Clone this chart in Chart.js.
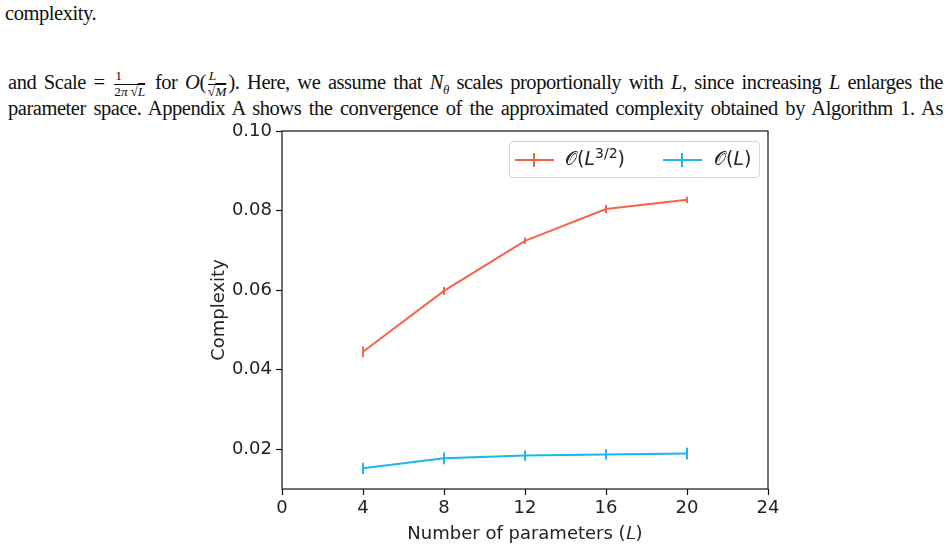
<!DOCTYPE html>
<html lang="en">
<head>
    <meta charset="UTF-8">
    <title>Complexity vs number of parameters</title>
    <script src="https://cdn.jsdelivr.net/npm/chart.js"></script>
    <style>
        body {
            margin: 0;
            padding: 0;
            background: #ffffff;
            width: 949px;
            height: 548px;
            overflow: hidden;
            position: relative;
        }

        .txt {
            position: absolute;
            font-family: 'Liberation Serif', 'Times New Roman', serif;
            font-size: 20.5px;
            letter-spacing: -0.45px;
            color: #111;
            white-space: nowrap;
            line-height: 1;
        }

        .just {
            width: 935px;
            text-align: justify;
            text-align-last: justify;
            white-space: normal;
        }

        .frac {
            display: inline-block;
            vertical-align: middle;
            text-align: center;
            font-size: 13.5px;
            letter-spacing: 0;
            line-height: 1.1;
            margin: 0 2px;
        }

        .frac .num {
            display: block;
            border-bottom: 1px solid #111;
            padding: 0 1px;
        }

        .frac .den {
            display: block;
        }

        #chart {
            position: absolute;
            left: 0;
            top: 0;
        }

        .legend {
            position: absolute;
            left: 509px;
            top: 141px;
            width: 249px;
            height: 35px;
            border: 1px solid #d6d6d6;
            border-radius: 4px;
            background: rgba(255, 255, 255, 0.8);
            font-family: 'DejaVu Sans', sans-serif;
            font-size: 19px;
            color: #222;
        }

        .legend .icon {
            position: absolute;
            top: 17px;
            width: 39px;
            height: 2px;
        }

        .legend .icon::after {
            content: '';
            position: absolute;
            left: 18px;
            top: -6px;
            width: 2px;
            height: 14px;
            background: inherit;
        }

        .legend .label {
            position: absolute;
            white-space: nowrap;
        }

        .legend sup {
            font-size: 14px;
            vertical-align: 7px;
            line-height: 0;
        }
    </style>
</head>
<body>

    <div class="txt" style="left:5px; top:3px;">complexity.</div>

    <div class="txt just" style="left:8px; top:69px;">
        and Scale = <span class="frac"><span class="num">1</span><span class="den">2<i>π</i>&thinsp;√<span style="text-decoration: overline;"><i>L</i></span></span></span> for <i>O</i>(<span class="frac"><span class="num"><i>L</i></span><span class="den">√<span style="text-decoration: overline;"><i>M</i></span></span></span>). Here, we assume that <i>N</i><sub style="font-size:13px;"><i>θ</i></sub> scales proportionally with <i>L</i>, since increasing <i>L</i> enlarges the
    </div>

    <div class="txt just" style="left:8px; top:98px;">
        parameter space. Appendix A shows the convergence of the approximated complexity obtained by Algorithm 1. As
    </div>

    <canvas id="chart" width="949" height="548"></canvas>

    <div class="legend">
        <div class="icon" style="left:5px; background:#f6634b;"></div>
        <div class="label" style="left:55px; top:5px;">𝒪(<i>L</i><sup>3/2</sup>)</div>
        <div class="icon" style="left:153px; background:#1bb6f0;"></div>
        <div class="label" style="left:204px; top:5px;">𝒪(<i>L</i>)</div>
    </div>

    <script>
        // Data
        const params = [4, 8, 12, 16, 20];
        const complexityL32 = [0.0445, 0.0598, 0.0724, 0.0804, 0.0827];
        const errL32 = [0.0013, 0.0010, 0.0008, 0.0010, 0.0008];
        const complexityL = [0.0152, 0.0177, 0.0184, 0.0187, 0.0189];
        const errL = [0.0014, 0.0015, 0.0013, 0.0013, 0.0015];

        const xTicks = [0, 4, 8, 12, 16, 20, 24];
        const yTicks = [0.02, 0.04, 0.06, 0.08, 0.10];

        const redColor = '#f6634b';
        const blueColor = '#1bb6f0';

        // vertical error bars, drawn through the scales
        const errorBars = {
            id: 'errorBars',
            afterDatasetsDraw(chart) {
                const ctx = chart.ctx;
                const yScale = chart.scales.y;
                chart.data.datasets.forEach((ds, i) => {
                    const meta = chart.getDatasetMeta(i);
                    ctx.save();
                    ctx.strokeStyle = ds.borderColor;
                    ctx.lineWidth = 2;
                    meta.data.forEach((pt, j) => {
                        const v = ds.data[j].y;
                        const e = ds.errors[j];
                        ctx.beginPath();
                        ctx.moveTo(pt.x, yScale.getPixelForValue(v - e));
                        ctx.lineTo(pt.x, yScale.getPixelForValue(v + e));
                        ctx.stroke();
                    });
                    ctx.restore();
                });
            }
        };

        // matplotlib-like box around the axes
        const frame = {
            id: 'frame',
            afterDraw(chart) {
                const a = chart.chartArea;
                const ctx = chart.ctx;
                ctx.save();
                ctx.strokeStyle = '#111';
                ctx.lineWidth = 1.2;
                ctx.strokeRect(a.left, a.top, a.right - a.left, a.bottom - a.top);
                ctx.restore();
            }
        };

        const tickFont = { family: 'DejaVu Sans', size: 18 };

        new Chart(document.getElementById('chart').getContext('2d'), {
            type: 'line',
            data: {
                datasets: [
                    {
                        label: 'O(L^3/2)',
                        data: params.map((x, i) => ({ x: x, y: complexityL32[i] })),
                        errors: errL32,
                        borderColor: redColor,
                        borderWidth: 2,
                        pointRadius: 0,
                        tension: 0,
                        fill: false
                    },
                    {
                        label: 'O(L)',
                        data: params.map((x, i) => ({ x: x, y: complexityL[i] })),
                        errors: errL,
                        borderColor: blueColor,
                        borderWidth: 2,
                        pointRadius: 0,
                        tension: 0,
                        fill: false
                    }
                ]
            },
            options: {
                responsive: false,
                animation: false,
                devicePixelRatio: 1,
                layout: {
                    padding: { left: 205, top: 131, right: 181, bottom: 2 }
                },
                plugins: {
                    legend: { display: false },
                    tooltip: { enabled: false }
                },
                scales: {
                    x: {
                        type: 'linear',
                        min: 0,
                        max: 24,
                        afterBuildTicks: (scale) => {
                            scale.ticks = xTicks.map(v => ({ value: v }));
                        },
                        afterFit: (scale) => { scale.height = 57; },
                        grid: {
                            display: true,
                            drawOnChartArea: false,
                            drawTicks: true,
                            tickLength: 6,
                            tickWidth: 1.2,
                            tickColor: '#111'
                        },
                        border: { display: false },
                        ticks: {
                            color: '#222',
                            font: tickFont,
                            padding: 3,
                            maxRotation: 0
                        },
                        title: {
                            display: true,
                            text: 'Number of parameters (𝐿)',
                            color: '#222',
                            font: tickFont,
                            padding: { top: 4, bottom: 1 }
                        }
                    },
                    y: {
                        type: 'linear',
                        min: 0.01,
                        max: 0.10,
                        afterBuildTicks: (scale) => {
                            scale.ticks = yTicks.map(v => ({ value: v }));
                        },
                        afterFit: (scale) => { scale.width = 77; },
                        grid: {
                            display: true,
                            drawOnChartArea: false,
                            drawTicks: true,
                            tickLength: 6,
                            tickWidth: 1.2,
                            tickColor: '#111'
                        },
                        border: { display: false },
                        ticks: {
                            color: '#222',
                            font: tickFont,
                            padding: 4,
                            callback: (v) => Number(v).toFixed(2)
                        },
                        title: {
                            display: true,
                            text: 'Complexity',
                            color: '#222',
                            font: tickFont,
                            padding: 4
                        }
                    }
                }
            },
            plugins: [errorBars, frame]
        });
    </script>
</body>
</html>
